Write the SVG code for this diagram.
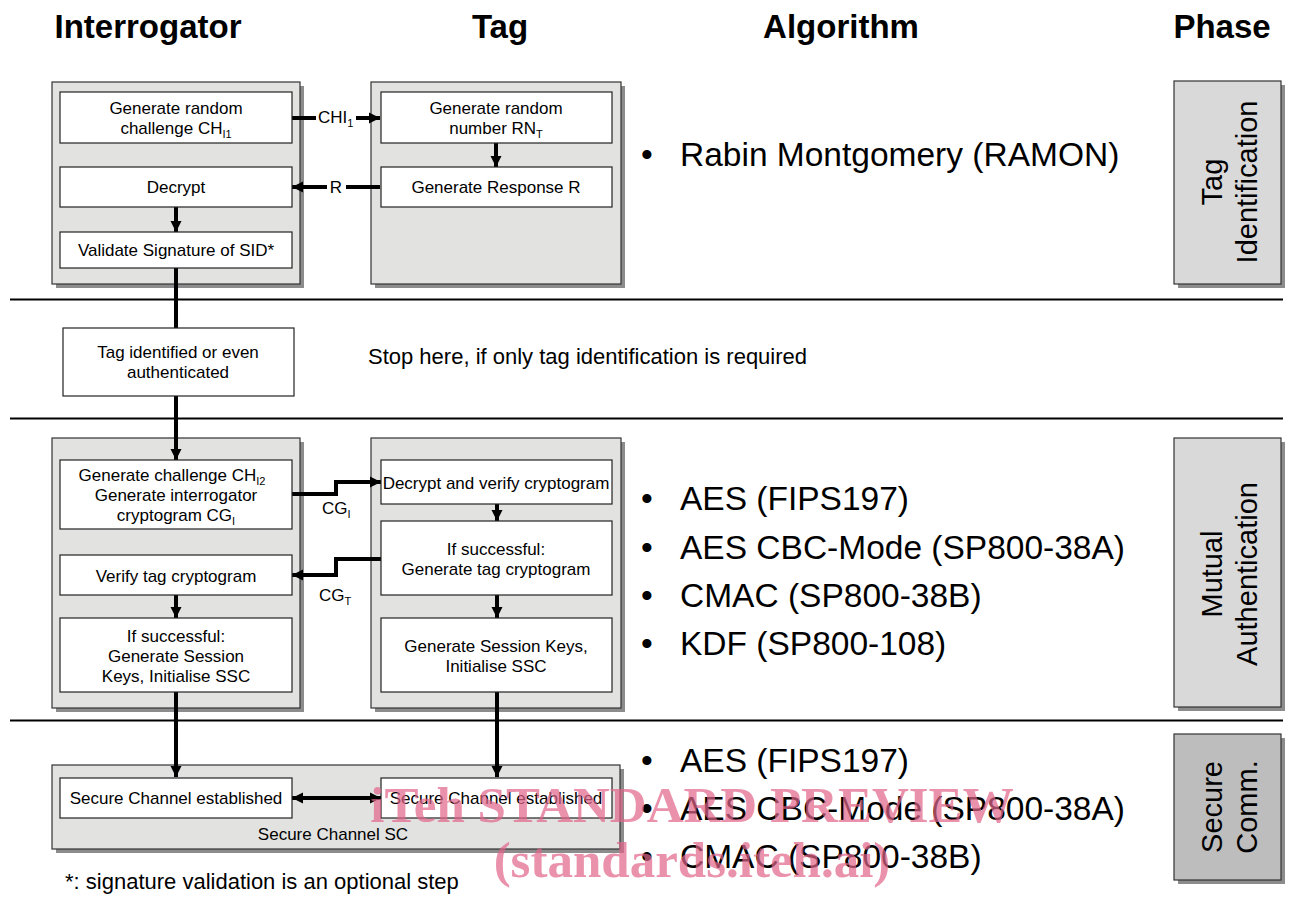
<svg xmlns="http://www.w3.org/2000/svg" width="1289" height="899" viewBox="0 0 1289 899">
<style>
text{font-family:"Liberation Sans",Arial,sans-serif;fill:#000}
.hd{font-size:33px;font-weight:bold;text-anchor:middle}
.bx{font-size:17px;text-anchor:middle}
.lb{font-size:17px}
.alg{font-size:33.5px}
.ph{font-size:29px;text-anchor:middle}
.cont{fill:#e2e2e0;stroke:#333;stroke-width:1.2}
.sh{fill:#8c8c8c}
.inner{fill:#fff;stroke:#222;stroke-width:1.2}
.phb{fill:#d9d9d9;stroke:#333;stroke-width:1.2}
.phb2{fill:#bdbdbd;stroke:#333;stroke-width:1.2}
.ln{stroke:#000;stroke-width:4;fill:none}
.sep{stroke:#000;stroke-width:2}
.wm{font-family:"Liberation Serif","Times New Roman",serif;font-weight:bold;font-size:51px;fill:#e2658a;opacity:0.7;text-anchor:middle}
</style>
<defs>
<marker id="ah" markerUnits="userSpaceOnUse" markerWidth="12" markerHeight="12" refX="11" refY="6" orient="auto">
<path d="M0,0.5 L11,6 L0,11.5 z" fill="#000"/>
</marker>
<marker id="ahs" markerUnits="userSpaceOnUse" markerWidth="12" markerHeight="12" refX="1" refY="6" orient="auto">
<path d="M12,0.5 L1,6 L12,11.5 z" fill="#000"/>
</marker>
</defs>
<rect width="1289" height="899" fill="#fff"/>

<g id="headers">
<text class="hd" x="148" y="38">Interrogator</text>
<text class="hd" x="500" y="38">Tag</text>
<text class="hd" x="841" y="38">Algorithm</text>
<text class="hd" x="1222" y="38">Phase</text>
</g>

<g id="separators">
<line class="sep" x1="10" y1="299.5" x2="1283" y2="299.5"/>
<line class="sep" x1="10" y1="418.5" x2="1283" y2="418.5"/>
<line class="sep" x1="10" y1="720.5" x2="1283" y2="720.5"/>
</g>

<g id="containers">
<rect class="sh" x="56" y="86" width="248" height="202"/>
<rect class="cont" x="52" y="82" width="248" height="202"/>
<rect class="sh" x="375" y="86" width="250" height="202"/>
<rect class="cont" x="371" y="82" width="250" height="202"/>
<rect class="sh" x="56" y="442" width="248" height="270"/>
<rect class="cont" x="52" y="438" width="248" height="270"/>
<rect class="sh" x="375" y="442" width="250" height="270"/>
<rect class="cont" x="371" y="438" width="250" height="270"/>
<rect class="sh" x="56" y="769" width="568" height="84"/>
<rect class="cont" x="52" y="765" width="568" height="84"/>
<text class="bx" x="333" y="840">Secure Channel SC</text>
</g>

<g id="connectors">
<line class="ln" x1="292" y1="118" x2="316" y2="118"/>
<line class="ln" x1="356" y1="118" x2="380" y2="118" marker-end="url(#ah)"/>
<text class="lb" x="318" y="123">CHI<tspan font-size="11" dy="4">1</tspan></text>
<line class="ln" x1="380" y1="187" x2="346" y2="187"/>
<line class="ln" x1="327" y1="187" x2="292" y2="187" marker-end="url(#ah)"/>
<text class="lb" x="336" y="193" text-anchor="middle">R</text>
<line class="ln" x1="496" y1="143" x2="496" y2="167" marker-end="url(#ah)"/>
<line class="ln" x1="176" y1="207" x2="176" y2="232" marker-end="url(#ah)"/>
<line class="ln" x1="176" y1="268" x2="176" y2="328"/>
<line class="ln" x1="176" y1="396" x2="176" y2="460" marker-end="url(#ah)"/>
<polyline class="ln" points="292,494 336,494 336,482 381,482" marker-end="url(#ah)"/>
<text class="lb" x="322" y="514">CG<tspan font-size="11" dy="4">I</tspan></text>
<polyline class="ln" points="381,559 336,559 336,575 292,575" marker-end="url(#ah)"/>
<text class="lb" x="319" y="601">CG<tspan font-size="11" dy="4">T</tspan></text>
<line class="ln" x1="497" y1="504" x2="497" y2="521" marker-end="url(#ah)"/>
<line class="ln" x1="176" y1="595" x2="176" y2="618" marker-end="url(#ah)"/>
<line class="ln" x1="497" y1="595" x2="497" y2="618" marker-end="url(#ah)"/>
<line class="ln" x1="176" y1="692" x2="176" y2="777" marker-end="url(#ah)"/>
<line class="ln" x1="497" y1="692" x2="497" y2="777" marker-end="url(#ah)"/>
<line class="ln" x1="292" y1="798" x2="381" y2="798" marker-start="url(#ahs)" marker-end="url(#ah)"/>
</g>

<g id="n-gen-challenge1">
<rect class="inner" x="60" y="92" width="232" height="51"/>
<text class="bx" x="176" y="114">Generate random</text>
<text class="bx" x="176" y="134">challenge CH<tspan font-size="11" dy="4">I1</tspan></text>
</g>
<g id="n-decrypt">
<rect class="inner" x="60" y="167" width="232" height="40"/>
<text class="bx" x="176" y="193">Decrypt</text>
</g>
<g id="n-validate">
<rect class="inner" x="60" y="232" width="232" height="36"/>
<text class="bx" x="176" y="256">Validate Signature of SID*</text>
</g>
<g id="n-gen-rn">
<rect class="inner" x="381" y="92" width="231" height="51"/>
<text class="bx" x="496" y="114">Generate random</text>
<text class="bx" x="496" y="134">number RN<tspan font-size="11" dy="4">T</tspan></text>
</g>
<g id="n-gen-resp">
<rect class="inner" x="381" y="167" width="231" height="40"/>
<text class="bx" x="496" y="193">Generate Response R</text>
</g>
<g id="n-tag-identified">
<rect class="inner" x="63" y="328" width="231" height="68"/>
<text class="bx" x="178" y="358">Tag identified or even</text>
<text class="bx" x="178" y="378">authenticated</text>
</g>
<g id="n-stop-note">
<text x="368" y="364" font-size="22">Stop here, if only tag identification is required</text>
</g>
<g id="n-gen-challenge2">
<rect class="inner" x="60" y="460" width="232" height="69"/>
<text class="bx" x="172" y="481">Generate challenge CH<tspan font-size="11" dy="4">I2</tspan></text>
<text class="bx" x="176" y="501">Generate interrogator</text>
<text class="bx" x="176" y="521">cryptogram CG<tspan font-size="11" dy="4">I</tspan></text>
</g>
<g id="n-verify-tag">
<rect class="inner" x="60" y="555" width="232" height="40"/>
<text class="bx" x="176" y="582">Verify tag cryptogram</text>
</g>
<g id="n-if-success-i">
<rect class="inner" x="60" y="618" width="232" height="74"/>
<text class="bx" x="176" y="642">If successful:</text>
<text class="bx" x="176" y="662">Generate Session</text>
<text class="bx" x="176" y="682">Keys, Initialise SSC</text>
</g>
<g id="n-decrypt-verify">
<rect class="inner" x="381" y="460" width="231" height="44"/>
<text class="bx" x="496" y="489">Decrypt and verify cryptogram</text>
</g>
<g id="n-gen-tag-crypto">
<rect class="inner" x="381" y="521" width="231" height="74"/>
<text class="bx" x="496" y="555">If successful:</text>
<text class="bx" x="496" y="575">Generate tag cryptogram</text>
</g>
<g id="n-gen-session-t">
<rect class="inner" x="381" y="618" width="231" height="74"/>
<text class="bx" x="496" y="652">Generate Session Keys,</text>
<text class="bx" x="496" y="672">Initialise SSC</text>
</g>
<g id="n-sc-i">
<rect class="inner" x="60" y="778" width="232" height="40"/>
<text class="bx" x="176" y="804">Secure Channel established</text>
</g>
<g id="n-sc-t">
<rect class="inner" x="381" y="778" width="231" height="40"/>
<text class="bx" x="496" y="804">Secure Channel established</text>
</g>

<g id="algorithms">
<text class="alg" x="641" y="166">•</text><text class="alg" x="680" y="166">Rabin Montgomery (RAMON)</text>
<text class="alg" x="641" y="510">•</text><text class="alg" x="680" y="510">AES (FIPS197)</text>
<text class="alg" x="641" y="559">•</text><text class="alg" x="680" y="559">AES CBC-Mode (SP800-38A)</text>
<text class="alg" x="641" y="607">•</text><text class="alg" x="680" y="607">CMAC (SP800-38B)</text>
<text class="alg" x="641" y="655">•</text><text class="alg" x="680" y="655">KDF (SP800-108)</text>
<text class="alg" x="641" y="772">•</text><text class="alg" x="680" y="772">AES (FIPS197)</text>
<text class="alg" x="641" y="820">•</text><text class="alg" x="680" y="820">AES CBC-Mode (SP800-38A)</text>
<text class="alg" x="641" y="868">•</text><text class="alg" x="680" y="868">CMAC (SP800-38B)</text>
</g>

<g id="phase-tag-identification">
<rect class="sh" x="1178" y="85" width="107" height="203"/>
<rect class="phb" x="1174" y="81" width="107" height="203"/>
<g transform="translate(1227,182) rotate(-90)">
<text class="ph" x="0" y="-5">Tag</text>
<text class="ph" x="0" y="30">Identification</text>
</g>
</g>
<g id="phase-mutual-auth">
<rect class="sh" x="1178" y="442" width="107" height="269"/>
<rect class="phb" x="1174" y="438" width="107" height="269"/>
<g transform="translate(1227,574) rotate(-90)">
<text class="ph" x="0" y="-5">Mutual</text>
<text class="ph" x="0" y="30">Authentication</text>
</g>
</g>
<g id="phase-secure-comm">
<rect class="sh" x="1178" y="738" width="107" height="146"/>
<rect class="phb2" x="1174" y="734" width="107" height="146"/>
<g transform="translate(1227,807) rotate(-90)">
<text class="ph" x="0" y="-5">Secure</text>
<text class="ph" x="0" y="30">Comm.</text>
</g>
</g>

<g id="footnote">
<text x="65" y="889" font-size="22">*: signature validation is an optional step</text>
</g>

<g id="watermark">
<text class="wm" x="692" y="822">iTeh STANDARD PREVIEW</text>
<text class="wm" x="692" y="877">(standards.iteh.ai)</text>
</g>
</svg>
